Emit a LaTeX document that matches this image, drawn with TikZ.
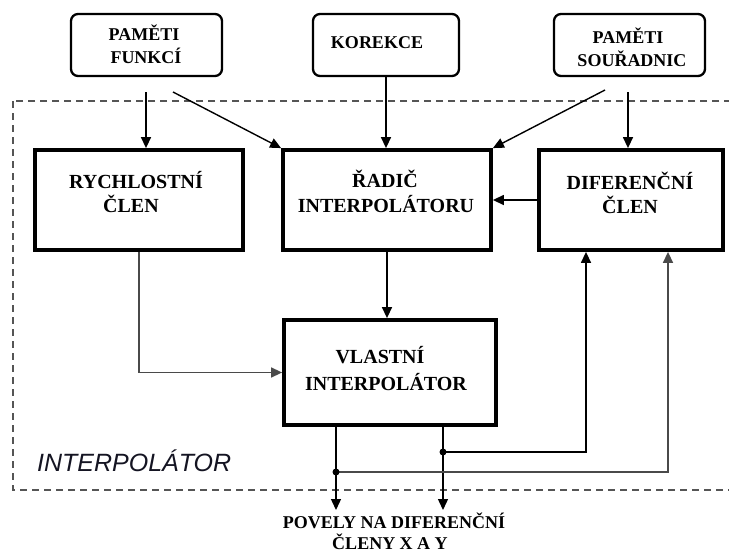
\documentclass[tikz,border=0pt]{standalone}
\usepackage{fontspec}
\setmainfont{Liberation Serif}
\newfontfamily\lsans{Liberation Sans}
\usetikzlibrary{arrows.meta}
\definecolor{dashgray}{HTML}{555555}
\definecolor{linegray}{HTML}{4A4A4A}
\definecolor{labelcol}{HTML}{141422}
\begin{document}
\begin{tikzpicture}[x=1pt,y=-1pt,
  topbox/.style={draw, line width=2.3pt, rounded corners=7pt, inner sep=0pt},
  blk/.style={draw, line width=3.8pt, inner sep=0pt},
  arr/.style={-{Triangle[length=11pt,width=10pt]}, line width=1.4pt},
  garr/.style={arr, draw=linegray, line width=1.5pt},
  tsmall/.style={font=\fontsize{18}{22}\selectfont\bfseries, anchor=base, inner sep=0pt},
  tbig/.style={font=\fontsize{20}{24}\selectfont\bfseries, anchor=base, inner sep=0pt},
  dot/.style={circle, fill=black, inner sep=0pt, minimum size=7pt}]
\useasboundingbox (0,0) rectangle (729,554);
\fill[white] (0,0) rectangle (729,554);

% dashed frame
\draw[dashgray, line width=2.5pt, dash pattern=on 7pt off 5pt] (13,101) rectangle (745,490);
\node[anchor=base west, inner sep=0pt, text=labelcol, font=\lsans\itshape\fontsize{25}{30}\selectfont] (lab) at (37,471) {INTERPOLÁTOR};

% top boxes
\node[topbox, minimum width=151pt, minimum height=62pt] (pf) at (146.5,45) {};
\node[topbox, minimum width=146pt, minimum height=62pt] (kor) at (386,45) {};
\node[topbox, minimum width=151pt, minimum height=62pt] (ps) at (629.5,45) {};
\node[tsmall] (pf1) at (144,41) {PAMĚTI};
\node[tsmall] (pf2) at (146,63) {FUNKCÍ};
\node[tsmall] (kor1) at (377,48) {KOREKCE};
\node[tsmall] (ps1) at (628,43) {PAMĚTI};
\node[tsmall] (ps2) at (632,66) {SOUŘADNIC};

% inner blocks
\node[blk, minimum width=208pt, minimum height=100pt] (ryc) at (139,200) {};
\node[blk, minimum width=208pt, minimum height=100pt] (rad) at (387,200) {};
\node[blk, minimum width=184pt, minimum height=100pt] (dif) at (631,200) {};
\node[blk, minimum width=212pt, minimum height=105pt] (vla) at (390,372.5) {};
\node[tbig] (ryc1) at (136,188) {RYCHLOSTNÍ};
\node[tbig] (ryc2) at (131,212) {ČLEN};
\node[tbig] (rad1) at (385,187) {ŘADIČ};
\node[tbig] (rad2) at (386,212) {INTERPOLÁTORU};
\node[tbig] (dif1) at (630,189) {DIFERENČNÍ};
\node[tbig] (dif2) at (630,213) {ČLEN};
\node[tbig] (vla1) at (380,363) {VLASTNÍ};
\node[tbig] (vla2) at (386,390) {INTERPOLÁTOR};

% bottom text
\node[tsmall] (pov1) at (394,528) {POVELY NA DIFERENČNÍ};
\node[tsmall] (pov2) at (390,549) {ČLENY X A Y};

% free ends
\coordinate (pfa) at (146,92);
\coordinate (pfb) at (173,92);
\coordinate (psa) at (605,90);
\coordinate (psb) at (628,92);
\coordinate (o1) at (336,427);
\coordinate (o2) at (443,427);
\coordinate (e1) at (336,510);
\coordinate (e2) at (443,510);
\coordinate (j1) at (336,472);
\coordinate (j2) at (443,452);

% connectors
\draw[arr] (pfa) -- (pfa |- ryc.north);
\draw[arr] (pfb) -- (rad.north west);
\draw[arr] (kor.south) -- (kor.south |- rad.north);
\draw[arr] (psa) -- (rad.north east);
\draw[arr] (psb) -- (psb |- dif.north);
\draw[arr] (dif.west) -- (rad.east);
\draw[arr] (rad.south) -- (rad.south |- vla.north);
\draw[garr] (ryc.south) |- (vla.west);
\draw[arr] (o1) -- (e1);
\draw[arr] (o2) -- (e2);
\draw[arr] (j2) -| (586,0 |- dif.south);
\draw[garr] (j1) -| (668,0 |- dif.south);
\node[dot] (d1) at (j1) {};
\node[dot] (d2) at (j2) {};
\end{tikzpicture}
\end{document}
